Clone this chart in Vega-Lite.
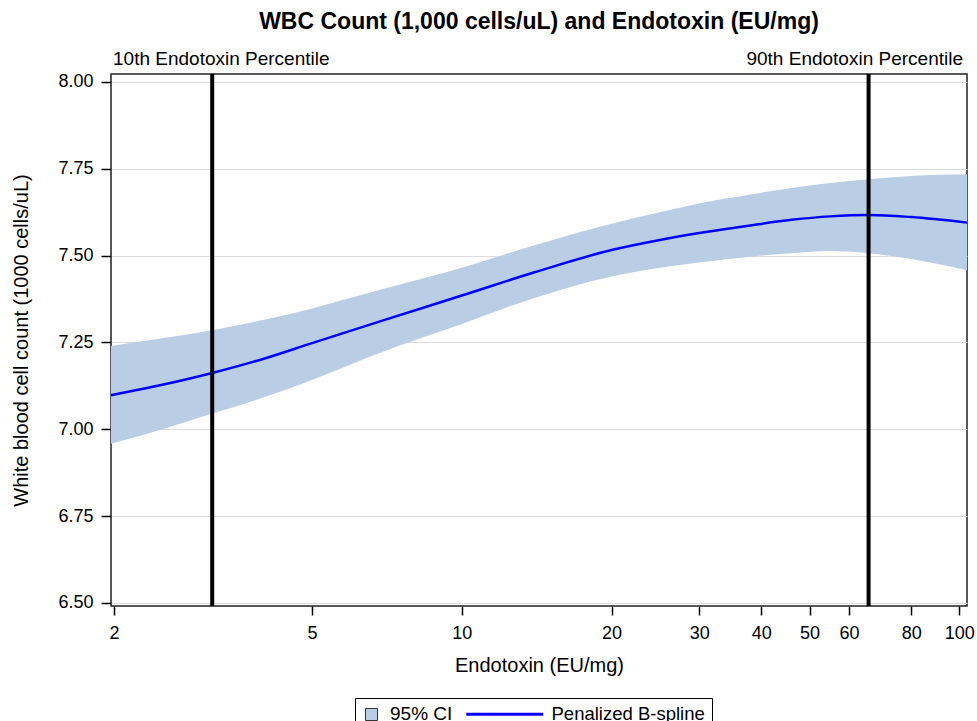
{
  "$schema": "https://vega.github.io/schema/vega-lite/v6.json",
  "width": 856,
  "height": 532,
  "autosize": {"type": "none"},
  "padding": {"left": 111, "top": 74, "right": 10, "bottom": 115},
  "background": "white",
  "title": {
    "text": "WBC Count (1,000 cells/uL) and Endotoxin (EU/mg)",
    "font": "Liberation Sans",
    "fontSize": 23,
    "fontWeight": "bold",
    "color": "#000",
    "anchor": "middle",
    "offset": 16
  },
  "datasets": {
    "curve": [
      {"endotoxin": 1.972, "fit": 7.098, "lo": 6.958, "hi": 7.240},
      {"endotoxin": 2.5, "fit": 7.128, "lo": 7.000, "hi": 7.262},
      {"endotoxin": 3.15, "fit": 7.162, "lo": 7.045, "hi": 7.285},
      {"endotoxin": 4, "fit": 7.203, "lo": 7.092, "hi": 7.315},
      {"endotoxin": 5, "fit": 7.248, "lo": 7.142, "hi": 7.348},
      {"endotoxin": 7, "fit": 7.315, "lo": 7.225, "hi": 7.405},
      {"endotoxin": 10, "fit": 7.385, "lo": 7.303, "hi": 7.465},
      {"endotoxin": 14, "fit": 7.452, "lo": 7.378, "hi": 7.530},
      {"endotoxin": 20, "fit": 7.516, "lo": 7.440, "hi": 7.592},
      {"endotoxin": 25, "fit": 7.545, "lo": 7.465, "hi": 7.625},
      {"endotoxin": 30, "fit": 7.565, "lo": 7.480, "hi": 7.650},
      {"endotoxin": 38, "fit": 7.587, "lo": 7.497, "hi": 7.676},
      {"endotoxin": 46, "fit": 7.603, "lo": 7.507, "hi": 7.695},
      {"endotoxin": 55, "fit": 7.613, "lo": 7.513, "hi": 7.709},
      {"endotoxin": 65.7, "fit": 7.617, "lo": 7.507, "hi": 7.720},
      {"endotoxin": 80, "fit": 7.611, "lo": 7.490, "hi": 7.729},
      {"endotoxin": 103.6, "fit": 7.595, "lo": 7.458, "hi": 7.734}
    ],
    "percentiles": [
      {"endotoxin": 3.15, "label": "10th Endotoxin Percentile"},
      {"endotoxin": 65.7, "label": "90th Endotoxin Percentile"}
    ],
    "notes": [
      {"endotoxin": 1.972, "wbc": 8.023, "label": "10th Endotoxin Percentile", "side": "left"},
      {"endotoxin": 103.6, "wbc": 8.023, "label": "90th Endotoxin Percentile", "side": "right"}
    ]
  },
  "encoding": {
    "x": {
      "field": "endotoxin",
      "type": "quantitative",
      "scale": {"type": "log", "domain": [1.972, 103.6], "nice": false},
      "axis": {
        "title": "Endotoxin (EU/mg)",
        "values": [2, 5, 10, 20, 30, 40, 50, 60, 80, 100],
        "format": "d",
        "grid": false,
        "domain": false,
        "labelFlush": false,
        "tickSize": 9,
        "labelPadding": 9,
        "titlePadding": 13
      }
    }
  },
  "layer": [
    {
      "data": {"name": "curve"},
      "mark": {"type": "area", "interpolate": "monotone", "opacity": 1},
      "encoding": {
        "y": {
          "field": "lo",
          "type": "quantitative",
          "scale": {"domain": [6.491, 8.023], "nice": false, "zero": false},
          "axis": {
            "title": "White blood cell count (1000 cells/uL)",
            "values": [6.5, 6.75, 7.0, 7.25, 7.5, 7.75, 8.0],
            "format": ".2f",
            "grid": true,
            "domain": false,
            "tickSize": 10,
            "labelPadding": 8,
            "titlePadding": 26
          }
        },
        "y2": {"field": "hi"},
        "fill": {
          "datum": "95% CI",
          "type": "nominal",
          "scale": {"domain": ["95% CI"], "range": ["#b9cde5"]},
          "legend": {
            "title": null,
            "orient": "none",
            "legendX": 254,
            "legendY": 634,
            "symbolType": "square",
            "symbolSize": 144,
            "symbolStrokeColor": "#333333",
            "symbolStrokeWidth": 1,
            "symbolOpacity": 1,
            "labelExpr": "''",
            "labelFontSize": 1,
            "padding": 0
          }
        }
      }
    },
    {
      "data": {"name": "curve"},
      "mark": {"type": "line", "interpolate": "monotone", "strokeWidth": 2.5},
      "encoding": {
        "y": {"field": "fit", "type": "quantitative"},
        "stroke": {
          "datum": "Penalized B-spline",
          "type": "nominal",
          "scale": {"domain": ["Penalized B-spline"], "range": ["#0000ff"]},
          "legend": {
            "title": "\u2800\u280095% CI",
            "titleOrient": "left",
            "titleFont": "Liberation Sans",
            "titleFontSize": 19,
            "titleFontWeight": "normal",
            "titleColor": "#000",
            "titleBaseline": "middle",
            "titlePadding": 10,
            "orient": "none",
            "legendX": 244,
            "legendY": 624,
            "symbolType": "M-1,0H11.83",
            "symbolSize": 144,
            "symbolStrokeWidth": 3,
            "labelOffset": 70,
            "labelFont": "Liberation Sans",
            "labelFontSize": 18.5,
            "labelColor": "#000",
            "padding": 7,
            "strokeColor": "#000"
          }
        }
      }
    },
    {
      "data": {"name": "percentiles"},
      "mark": {"type": "rule", "color": "#000", "strokeWidth": 4},
      "encoding": {}
    },
    {
      "data": {"name": "notes"},
      "transform": [{"filter": "datum.side === 'left'"}],
      "mark": {"type": "text", "align": "left", "baseline": "alphabetic", "dy": -9, "dx": 2, "font": "Liberation Sans", "fontSize": 19, "color": "#000"},
      "encoding": {
        "y": {"field": "wbc", "type": "quantitative"},
        "text": {"field": "label"}
      }
    },
    {
      "data": {"name": "notes"},
      "transform": [{"filter": "datum.side === 'right'"}],
      "mark": {"type": "text", "align": "right", "baseline": "alphabetic", "dy": -9, "dx": -4, "font": "Liberation Sans", "fontSize": 19, "color": "#000"},
      "encoding": {
        "y": {"field": "wbc", "type": "quantitative"},
        "text": {"field": "label"}
      }
    }
  ],
  "config": {
    "view": {"stroke": "#222", "strokeWidth": 1.5},
    "axis": {
      "labelFont": "Liberation Sans",
      "labelFontSize": 18,
      "labelColor": "#000",
      "titleFont": "Liberation Sans",
      "titleFontSize": 20,
      "titleFontWeight": "normal",
      "titleColor": "#000",
      "tickColor": "#000",
      "tickWidth": 1.5,
      "gridColor": "#dcdcdc",
      "gridWidth": 1.2
    }
  }
}
